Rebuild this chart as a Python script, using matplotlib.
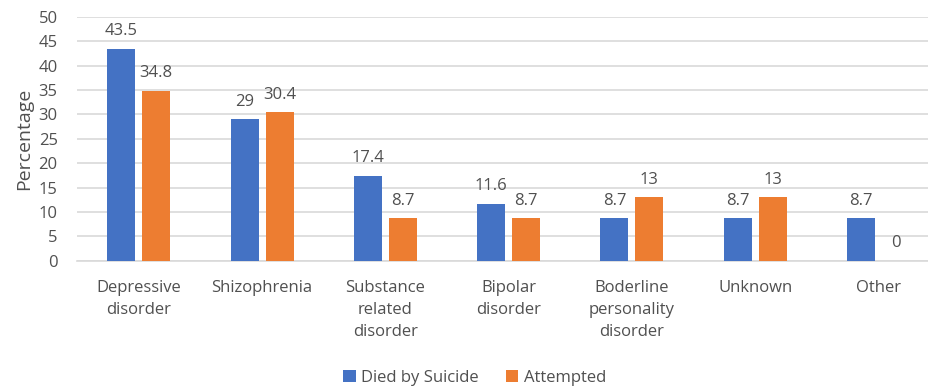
import matplotlib.pyplot as plt
import numpy as np

plt.rcParams['font.family'] = ['Open Sans', 'DejaVu Sans']

categories = ["Depressive\ndisorder", "Shizophrenia", "Substance\nrelated\ndisorder",
              "Bipolar\ndisorder", "Boderline\npersonality\ndisorder", "Unknown", "Other"]
died = [43.5, 29, 17.4, 11.6, 8.7, 8.7, 8.7]
attempted = [34.8, 30.4, 8.7, 8.7, 13, 13, 0]
labels_died = ["43.5", "29", "17.4", "11.6", "8.7", "8.7", "8.7"]
labels_att = ["34.8", "30.4", "8.7", "8.7", "13", "13", "0"]

blue = "#4472C4"
orange = "#ED7D31"
txt = "#505050"

fig = plt.figure(figsize=(9.29, 3.91), dpi=100)
# right edge runs past the figure so gridlines reach the border
ax = fig.add_axes([0.083, 0.333, 0.929, 0.624])

x = np.arange(len(categories))
w = 0.227
off = 0.142
b1 = ax.bar(x - off, died, w, color=blue, label="Died by Suicide", zorder=3)
b2 = ax.bar(x + off, attempted, w, color=orange, label="Attempted", zorder=3)

for bars, labs in [(b1, labels_died), (b2, labels_att)]:
    for rect, lab in zip(bars, labs):
        ax.annotate(lab, (rect.get_x() + rect.get_width() / 2, rect.get_height()),
                    xytext=(0, 7), textcoords="offset points", ha="center", va="bottom",
                    fontsize=12, color=txt)

ax.set_xlim(-0.5, len(categories) - 0.5)
ax.set_ylim(0, 50)
ax.set_yticks(np.arange(0, 51, 5))
ax.set_xticks(x, labels=categories)
for t in ax.get_xticklabels():
    t.set_linespacing(1.5)
ax.tick_params(axis="both", length=0, labelsize=12, colors=txt)
ax.tick_params(axis="x", pad=14)
ax.tick_params(axis="y", pad=14)
ax.yaxis.grid(True, color="#d9d9d9", linewidth=1.2, zorder=0)
for s in ["top", "right", "left"]:
    ax.spines[s].set_visible(False)
ax.spines["bottom"].set_color("#d9d9d9")
ax.spines["bottom"].set_linewidth(1.2)
ax.set_ylabel("Percentage", fontsize=14, color=txt, labelpad=4)

fig.legend(loc="center", bbox_to_anchor=(0.511, 0.033), ncol=2, frameon=False,
           fontsize=12, handlelength=0.75, handleheight=0.75, columnspacing=1.6,
           handletextpad=0.35, labelcolor=txt)

fig.savefig("out.png", dpi=100)
